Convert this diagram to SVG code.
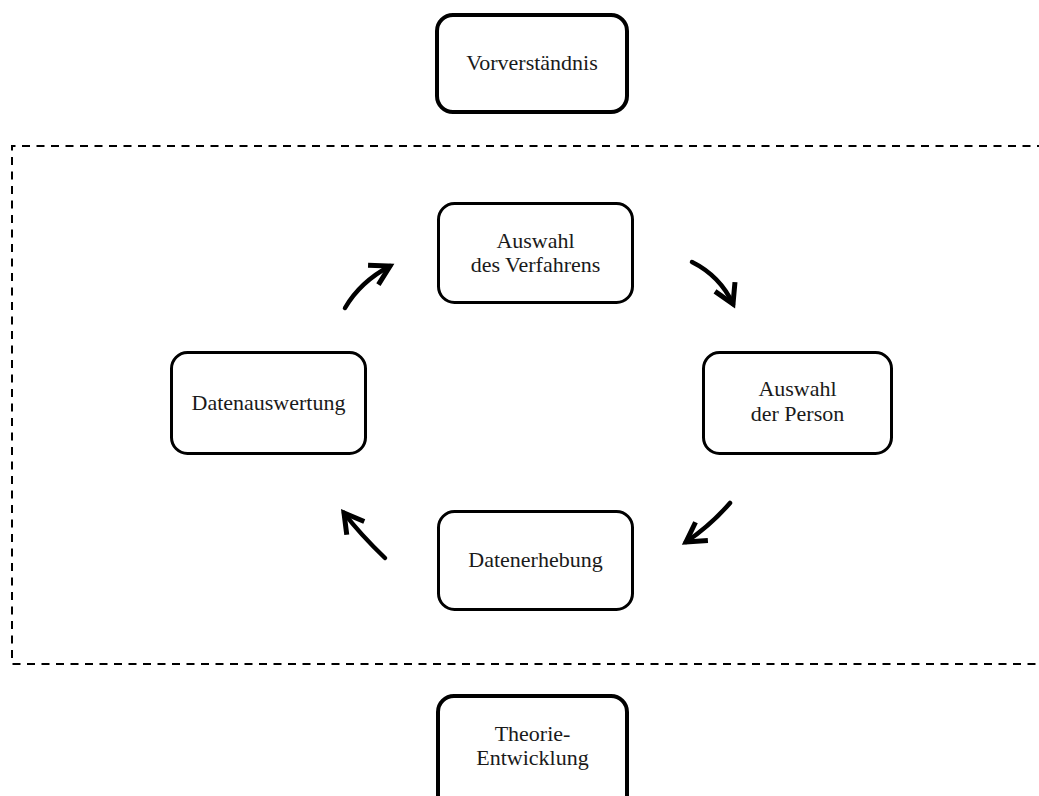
<svg xmlns="http://www.w3.org/2000/svg" width="1039" height="796" viewBox="0 0 1039 796">
<defs>
<style>
.box{fill:#fff;stroke:#000;stroke-width:3}
.boxb{fill:#fff;stroke:#000;stroke-width:4}
.t{font-family:"Liberation Serif","Times New Roman",serif;font-size:22px;fill:#1a1a1a;text-anchor:middle}
.arr{fill:none;stroke:#000;stroke-width:4.5;stroke-linecap:round;marker-end:url(#head)}
.frame{fill:none;stroke:#000;stroke-width:2;stroke-dasharray:8 6.5}
</style>
<marker id="head" markerUnits="userSpaceOnUse" viewBox="-26 -16 32 32" markerWidth="32" markerHeight="32" refX="0" refY="0" orient="auto" overflow="visible">
<path d="M -19 -11 L 0 0 L -19 11" fill="none" stroke="#000" stroke-width="5" stroke-linejoin="miter" stroke-linecap="butt"/>
</marker>
</defs>
<g id="frame"><path class="frame" d="M 1045 146 H 12 V 664 H 1045"/></g>
<g id="n-vorverstaendnis"><rect class="boxb" x="437" y="15" width="190" height="97" rx="16"/><text class="t" x="532" y="70">Vorverständnis</text></g>
<g id="n-verfahren"><rect class="box" x="438.5" y="203.5" width="194" height="99" rx="16"/><text class="t" x="535.5" y="248">Auswahl</text><text class="t" x="535.5" y="272">des Verfahrens</text></g>
<g id="n-person"><rect class="box" x="703.5" y="352.5" width="188" height="101" rx="16"/><text class="t" x="797.5" y="396">Auswahl</text><text class="t" x="797.5" y="421">der Person</text></g>
<g id="n-auswertung"><rect class="box" x="171.5" y="352.5" width="194" height="101" rx="16"/><text class="t" x="268.5" y="410">Datenauswertung</text></g>
<g id="n-erhebung"><rect class="box" x="438.5" y="511.5" width="194" height="98" rx="16"/><text class="t" x="535.5" y="567">Datenerhebung</text></g>
<g id="n-theorie"><rect class="boxb" x="438" y="696" width="189" height="120" rx="16"/><text class="t" x="532.5" y="741">Theorie-</text><text class="t" x="532.5" y="765">Entwicklung</text></g>
<g id="connectors">
<path class="arr" d="M 345 308 Q 360 282 390 266"/>
<path class="arr" d="M 692 262 Q 720 276 733 304"/>
<path class="arr" d="M 730 503 Q 711 525 686 542"/>
<path class="arr" d="M 385 558 Q 360 534 344 513"/>
</g>
</svg>
